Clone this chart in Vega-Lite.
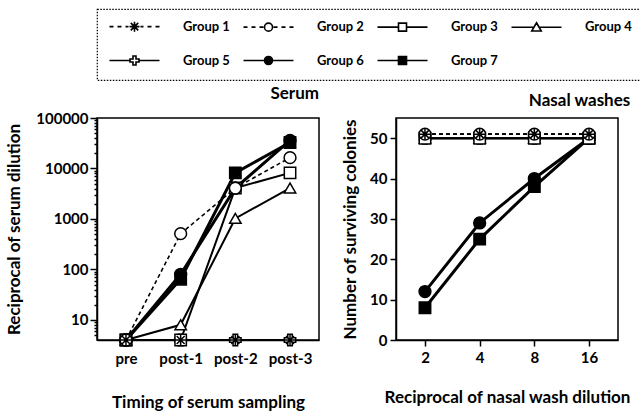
{
  "$schema": "https://vega.github.io/schema/vega-lite/v6.json",
  "background": "white",
  "padding": {"left": 5, "top": 8, "right": 5, "bottom": 5},
  "datasets": {
    "serum": [
      {"group": "Group 7", "time": "pre", "value": 4},
      {"group": "Group 7", "time": "post-1", "value": 64},
      {"group": "Group 7", "time": "post-2", "value": 8192},
      {"group": "Group 7", "time": "post-3", "value": 32768},
      {"group": "Group 6", "time": "pre", "value": 4},
      {"group": "Group 6", "time": "post-1", "value": 80},
      {"group": "Group 6", "time": "post-2", "value": 4096},
      {"group": "Group 6", "time": "post-3", "value": 36000},
      {"group": "Group 5", "time": "pre", "value": 4},
      {"group": "Group 5", "time": "post-1", "value": 4},
      {"group": "Group 5", "time": "post-2", "value": 4},
      {"group": "Group 5", "time": "post-3", "value": 4},
      {"group": "Group 4", "time": "pre", "value": 4},
      {"group": "Group 4", "time": "post-1", "value": 8},
      {"group": "Group 4", "time": "post-2", "value": 1024},
      {"group": "Group 4", "time": "post-3", "value": 4096},
      {"group": "Group 3", "time": "pre", "value": 4},
      {"group": "Group 3", "time": "post-1", "value": 4},
      {"group": "Group 3", "time": "post-2", "value": 4096},
      {"group": "Group 3", "time": "post-3", "value": 8192},
      {"group": "Group 2", "time": "pre", "value": 4},
      {"group": "Group 2", "time": "post-1", "value": 512},
      {"group": "Group 2", "time": "post-2", "value": 4096},
      {"group": "Group 2", "time": "post-3", "value": 16384},
      {"group": "Group 1", "time": "pre", "value": 4},
      {"group": "Group 1", "time": "post-1", "value": 4},
      {"group": "Group 1", "time": "post-2", "value": 4},
      {"group": "Group 1", "time": "post-3", "value": 4}
    ],
    "nasal": [
      {"group": "Group 7", "dilution": 2, "colonies": 8},
      {"group": "Group 7", "dilution": 4, "colonies": 25},
      {"group": "Group 7", "dilution": 8, "colonies": 38},
      {"group": "Group 7", "dilution": 16, "colonies": 50},
      {"group": "Group 6", "dilution": 2, "colonies": 12},
      {"group": "Group 6", "dilution": 4, "colonies": 29},
      {"group": "Group 6", "dilution": 8, "colonies": 40},
      {"group": "Group 6", "dilution": 16, "colonies": 50},
      {"group": "Group 5", "dilution": 2, "colonies": 50},
      {"group": "Group 5", "dilution": 4, "colonies": 50},
      {"group": "Group 5", "dilution": 8, "colonies": 50},
      {"group": "Group 5", "dilution": 16, "colonies": 50},
      {"group": "Group 4", "dilution": 2, "colonies": 50},
      {"group": "Group 4", "dilution": 4, "colonies": 50},
      {"group": "Group 4", "dilution": 8, "colonies": 50},
      {"group": "Group 4", "dilution": 16, "colonies": 50},
      {"group": "Group 3", "dilution": 2, "colonies": 50},
      {"group": "Group 3", "dilution": 4, "colonies": 50},
      {"group": "Group 3", "dilution": 8, "colonies": 50},
      {"group": "Group 3", "dilution": 16, "colonies": 50},
      {"group": "Group 2", "dilution": 2, "colonies": 51},
      {"group": "Group 2", "dilution": 4, "colonies": 51},
      {"group": "Group 2", "dilution": 8, "colonies": 51},
      {"group": "Group 2", "dilution": 16, "colonies": 51},
      {"group": "Group 1", "dilution": 2, "colonies": 51},
      {"group": "Group 1", "dilution": 4, "colonies": 51},
      {"group": "Group 1", "dilution": 8, "colonies": 51},
      {"group": "Group 1", "dilution": 16, "colonies": 51}
    ]
  },
  "hconcat": [
    {
      "width": 222,
      "height": 222,
      "title": {"text": "Serum", "anchor": "end", "fontSize": 17, "fontWeight": "bold", "offset": 8, "color": "black"},
      "data": {"name": "serum"},
      "encoding": {
        "x": {"field": "time", "type": "ordinal", "sort": ["pre", "post-1", "post-2", "post-3"], "scale": {"type": "point", "padding": 0.53},
          "axis": {"title": "Timing of serum sampling", "labelAngle": 0, "ticks": false, "labelPadding": 11, "titlePadding": 28}},
        "y": {"field": "value", "type": "quantitative", "scale": {"type": "log", "domain": [4, 100000], "nice": false}, "axis": null}
      },
      "layer": [
        {
          "mark": {"type": "point", "filled": true, "size": 100, "stroke": "black", "strokeWidth": 1.6, "opacity": 0},
          "encoding": {
            "y": {"field": "value", "type": "quantitative",
              "axis": {"title": "Reciprocal of serum dilution", "values": [10, 100, 1000, 10000, 100000], "format": "d", "tickSize": 7, "labelPadding": 2, "titlePadding": 12, "orient": "left"}},
            "shape": {"field": "group", "type": "nominal",
              "scale": {"domain": ["Group 1", "Group 2", "Group 3", "Group 4", "Group 5", "Group 6", "Group 7"],
                "range": [
                  "M-5,0H-4.2M-3.4,0H-2.6M-1.8,0H-1.2M1.2,0H1.8M2.6,0H3.4M4.2,0H5M-1,0H1M0,-1V1M-0.75,-0.75L0.75,0.75M-0.75,0.75L0.75,-0.75",
                  "M-5,0H-4.2M-3.4,0H-2.6M-1.8,0H-1M1,0H1.8M2.6,0H3.4M4.2,0H5M0.8,0A0.8,0.8,0,1,1,-0.8,0A0.8,0.8,0,1,1,0.8,0Z",
                  "M-5,0H-0.8M0.8,0H5M-0.8,-0.8H0.8V0.8H-0.8Z",
                  "M-5,0H-0.52M0.52,0H5M0,-0.9L0.95,0.75H-0.95Z",
                  "M-5,0H-0.9M0.9,0H5M-0.3,-0.9H0.3V-0.3H0.9V0.3H0.3V0.9H-0.3V0.3H-0.9V-0.3H-0.3Z",
                  "M-5,0H-0.8M0.8,0H5M0.8,0A0.8,0.8,0,1,1,-0.8,0A0.8,0.8,0,1,1,0.8,0Z",
                  "M-5,0H-0.8M0.8,0H5M-0.8,-0.8H0.8V0.8H-0.8Z"
                ]},
              "legend": {"encoding": {
                "legend": {"strokeDash": {"value": [1.5, 1.5]}, "strokeWidth": {"value": 1.2}},
                "symbols": {"size": {"value": 100}, "stroke": {"value": "black"}, "strokeWidth": {"value": 1.6}, "opacity": {"value": 1}}}}},
            "fill": {"field": "group", "type": "nominal",
              "scale": {"domain": ["Group 1", "Group 2", "Group 3", "Group 4", "Group 5", "Group 6", "Group 7"], "range": ["white", "white", "white", "white", "white", "black", "black"]},
              "legend": {"encoding": {
                "legend": {"strokeDash": {"value": [1.5, 1.5]}, "strokeWidth": {"value": 1.2}},
                "symbols": {"size": {"value": 100}, "stroke": {"value": "black"}, "strokeWidth": {"value": 1.6}, "opacity": {"value": 1}}}}}
          }
        },
        {
          "transform": [{"filter": {"field": "group", "oneOf": ["Group 1", "Group 2"]}}],
          "mark": {"type": "line", "color": "black", "strokeDash": [4, 3], "strokeWidth": 1.6},
          "encoding": {
            "y": {"field": "value", "type": "quantitative",
              "axis": {"title": null, "orient": "left", "labels": false, "domain": false, "tickSize": 3,
                "values": [5, 6, 7, 8, 9, 20, 30, 40, 50, 60, 70, 80, 90, 200, 300, 400, 500, 600, 700, 800, 900, 2000, 3000, 4000, 5000, 6000, 7000, 8000, 9000, 20000, 30000, 40000, 50000, 60000, 70000, 80000, 90000]}},
            "detail": {"field": "group"}
          }
        },
        {
          "transform": [{"filter": {"field": "group", "oneOf": ["Group 3", "Group 4", "Group 5"]}}],
          "mark": {"type": "line", "color": "black", "strokeWidth": 2},
          "encoding": {"detail": {"field": "group"}}
        },
        {
          "transform": [{"filter": {"field": "group", "oneOf": ["Group 6", "Group 7"]}}],
          "mark": {"type": "line", "color": "black", "strokeWidth": 3},
          "encoding": {"detail": {"field": "group"}}
        },
        {"transform": [{"filter": {"field": "group", "equal": "Group 7"}}], "mark": {"type": "point", "shape": "square", "filled": true, "fill": "black", "stroke": "black", "strokeWidth": 1.5, "size": 130, "opacity": 1}, "encoding": {}},
        {"transform": [{"filter": {"field": "group", "equal": "Group 6"}}], "mark": {"type": "point", "shape": "circle", "filled": true, "fill": "black", "stroke": "black", "strokeWidth": 1.5, "size": 140, "opacity": 1}, "encoding": {}},
        {"transform": [{"filter": {"field": "group", "equal": "Group 5"}}], "mark": {"type": "point", "shape": "cross", "filled": true, "fill": "white", "stroke": "black", "strokeWidth": 1.5, "size": 130, "opacity": 1}, "encoding": {}},
        {"transform": [{"filter": {"field": "group", "equal": "Group 4"}}], "mark": {"type": "point", "shape": "triangle-up", "filled": true, "fill": "white", "stroke": "black", "strokeWidth": 1.5, "size": 130, "opacity": 1}, "encoding": {}},
        {"transform": [{"filter": {"field": "group", "equal": "Group 3"}}], "mark": {"type": "point", "shape": "square", "filled": true, "fill": "white", "stroke": "black", "strokeWidth": 1.5, "size": 130, "opacity": 1}, "encoding": {}},
        {"transform": [{"filter": {"field": "group", "equal": "Group 2"}}], "mark": {"type": "point", "shape": "circle", "filled": true, "fill": "white", "stroke": "black", "strokeWidth": 1.5, "size": 140, "opacity": 1}, "encoding": {}},
        {"transform": [{"filter": {"field": "group", "equal": "Group 1"}}], "mark": {"type": "point", "shape": "M-1,0H1M0,-1V1M-0.7,-0.7L0.7,0.7M-0.7,0.7L0.7,-0.7", "filled": true, "fill": "white", "stroke": "black", "strokeWidth": 1.5, "size": 130, "opacity": 1}, "encoding": {}}
      ],
      "resolve": {"axis": {"y": "independent"}}
    },
    {
      "width": 222,
      "height": 222,
      "title": {"text": "Nasal washes", "anchor": "end", "fontSize": 17, "fontWeight": "bold", "offset": 8, "color": "black"},
      "data": {"name": "nasal"},
      "encoding": {
        "x": {"field": "dilution", "type": "ordinal", "scale": {"type": "point", "padding": 0.53},
          "axis": {"title": "Reciprocal of nasal wash dilution", "labelAngle": 0, "tickSize": 6, "labelPadding": 4, "titlePadding": 24}},
        "y": {"field": "colonies", "type": "quantitative", "scale": {"domain": [0, 55], "nice": false},
          "axis": {"title": "Number of surviving colonies", "values": [0, 10, 20, 30, 40, 50], "tickSize": 6, "labelPadding": 3, "titlePadding": 10}}
      },
      "layer": [
        {
          "transform": [{"filter": {"field": "group", "oneOf": ["Group 1", "Group 2"]}}],
          "mark": {"type": "line", "color": "black", "strokeDash": [4, 3], "strokeWidth": 1.6},
          "encoding": {"detail": {"field": "group"}}
        },
        {
          "transform": [{"filter": {"field": "group", "oneOf": ["Group 3", "Group 4", "Group 5"]}}],
          "mark": {"type": "line", "color": "black", "strokeWidth": 2},
          "encoding": {"detail": {"field": "group"}}
        },
        {
          "transform": [{"filter": {"field": "group", "oneOf": ["Group 6", "Group 7"]}}],
          "mark": {"type": "line", "color": "black", "strokeWidth": 3},
          "encoding": {"detail": {"field": "group"}}
        },
        {"transform": [{"filter": {"field": "group", "equal": "Group 7"}}], "mark": {"type": "point", "shape": "square", "filled": true, "fill": "black", "stroke": "black", "strokeWidth": 1.5, "size": 130, "opacity": 1}, "encoding": {}},
        {"transform": [{"filter": {"field": "group", "equal": "Group 6"}}], "mark": {"type": "point", "shape": "circle", "filled": true, "fill": "black", "stroke": "black", "strokeWidth": 1.5, "size": 140, "opacity": 1}, "encoding": {}},
        {"transform": [{"filter": {"field": "group", "equal": "Group 5"}}], "mark": {"type": "point", "shape": "cross", "filled": true, "fill": "white", "stroke": "black", "strokeWidth": 1.5, "size": 130, "opacity": 1}, "encoding": {}},
        {"transform": [{"filter": {"field": "group", "equal": "Group 4"}}], "mark": {"type": "point", "shape": "triangle-up", "filled": true, "fill": "white", "stroke": "black", "strokeWidth": 1.5, "size": 130, "opacity": 1}, "encoding": {}},
        {"transform": [{"filter": {"field": "group", "equal": "Group 3"}}], "mark": {"type": "point", "shape": "square", "filled": true, "fill": "white", "stroke": "black", "strokeWidth": 1.5, "size": 130, "opacity": 1}, "encoding": {}},
        {"transform": [{"filter": {"field": "group", "equal": "Group 2"}}], "mark": {"type": "point", "shape": "circle", "filled": true, "fill": "white", "stroke": "black", "strokeWidth": 1.5, "size": 140, "opacity": 1}, "encoding": {}},
        {"transform": [{"filter": {"field": "group", "equal": "Group 1"}}], "mark": {"type": "point", "shape": "M-1,0H1M0,-1V1M-0.7,-0.7L0.7,0.7M-0.7,0.7L0.7,-0.7", "filled": true, "fill": "white", "stroke": "black", "strokeWidth": 1.5, "size": 130, "opacity": 1}, "encoding": {}}
      ]
    }
  ],
  "spacing": 20,
  "config": {
    "font": "Lato",
    "view": {"stroke": "black", "strokeWidth": 1.5},
    "axis": {
      "grid": false,
      "domainColor": "black",
      "domainWidth": 1.5,
      "tickColor": "black",
      "tickWidth": 1.5,
      "labelColor": "black",
      "labelFontSize": 15,
      "labelFontWeight": "bold",
      "titleColor": "black",
      "titleFontSize": 17,
      "titleFontWeight": "bold"
    },
    "legend": {
      "title": null, "orient": "top", "columns": 4, "direction": "horizontal",
      "symbolSize": 100, "symbolOffset": 20, "labelOffset": 42, "columnPadding": 10, "rowPadding": 17,
      "symbolOpacity": 1, "symbolStrokeColor": "black", "symbolStrokeWidth": 1.6,
      "padding": 11, "strokeColor": "black", "offset": 4,
      "labelFontSize": 13, "labelFontWeight": "bold", "labelColor": "black"
    }
  }
}
